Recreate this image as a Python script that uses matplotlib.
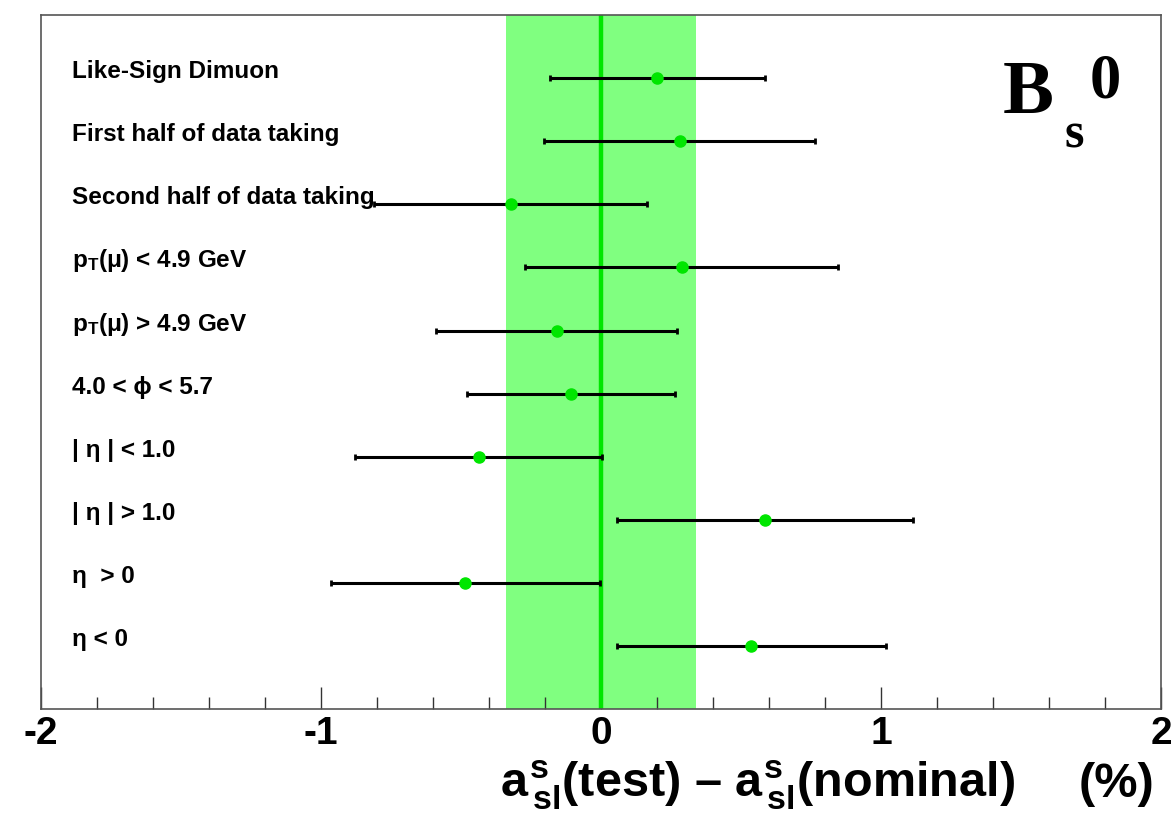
import numpy as np
import matplotlib
matplotlib.use("Agg")
import matplotlib.pyplot as plt

plt.rcParams['font.family'] = ['Liberation Sans', 'DejaVu Sans']
plt.rcParams['font.weight'] = 'bold'
plt.rcParams['mathtext.fontset'] = 'custom'
plt.rcParams['mathtext.rm'] = 'Liberation Sans:bold'
plt.rcParams['mathtext.it'] = 'Liberation Sans:bold'
plt.rcParams['mathtext.bf'] = 'Liberation Sans:bold'

# consistency checks, top to bottom
labels = [
    "Like-Sign Dimuon",
    "First half of data taking",
    "Second half of data taking",
    r"p$_{T}$(μ) < 4.9 GeV",
    r"p$_{T}$(μ) > 4.9 GeV",
    "4.0 < ϕ < 5.7",
    "| η | < 1.0",
    "| η | > 1.0",
    "η  > 0",
    "η < 0",
]
values = [0.201, 0.281, -0.323, 0.288, -0.158, -0.107, -0.437, 0.586, -0.484, 0.536]
errors = [0.383, 0.484, 0.487, 0.560, 0.430, 0.372, 0.440, 0.529, 0.480, 0.480]
nominal_err = 0.338

ypos = np.arange(len(labels), 0, -1)

fig = plt.figure(figsize=(11.71, 8.15), dpi=100)
ax = fig.add_axes([0.035, 0.130, 0.9565, 0.8515])

ax.axvspan(-nominal_err, nominal_err, color='#80ff80', zorder=1, lw=0)
ax.axvline(0, color='#00e600', lw=3.2, zorder=2)
ax.errorbar(values, ypos, xerr=errors, fmt='o', color='black', ecolor='black',
            elinewidth=2.2, capsize=2, capthick=2, mfc='#00e600', mec='#00e600',
            ms=8, zorder=3)

for lab, y in zip(labels, ypos):
    ax.text(-1.889, y, lab, fontsize=17.5, fontweight='bold', va='baseline',
            ha='left', zorder=4)

ax.set_xlim(-2, 2)
ax.set_ylim(0, 11)
ax.set_yticks([])
ax.set_xticks([-2, -1, 0, 1, 2])
ax.set_xticklabels(['-2', '-1', '0', '1', '2'], fontsize=28, fontweight='bold')
ax.set_xticks(np.arange(-2, 2.01, 0.2), minor=True)
ax.tick_params(axis='x', which='major', direction='in', length=16, width=1,
               color='#333333', pad=5)
ax.tick_params(axis='x', which='minor', direction='in', length=9, width=1,
               color='#333333')
for sp in ax.spines.values():
    sp.set_color('#555555')
    sp.set_linewidth(1.2)

fig.text(1015 / 1171, 1 - 797 / 815,
         r"$a^{s}_{\,sl}$(test) – $a^{s}_{\,sl}$(nominal)",
         fontsize=35, fontweight='bold', ha='right', va='baseline')
fig.text(1154 / 1171, 1 - 797 / 815, "(%)",
         fontsize=35, fontweight='bold', ha='right', va='baseline')

serif = 'Liberation Serif'
fig.text(1003 / 1171, 1 - 113 / 815, "B", family=serif, fontsize=55,
         fontweight='bold', ha='left', va='baseline')
fig.text(1065 / 1171, 1 - 148 / 815, "s", family=serif, fontsize=36,
         fontweight='bold', ha='left', va='baseline')
fig.text(1090 / 1171, 1 - 97 / 815, "0", family=serif, fontsize=45,
         fontweight='bold', ha='left', va='baseline')

fig.savefig("out.png", dpi=100)
